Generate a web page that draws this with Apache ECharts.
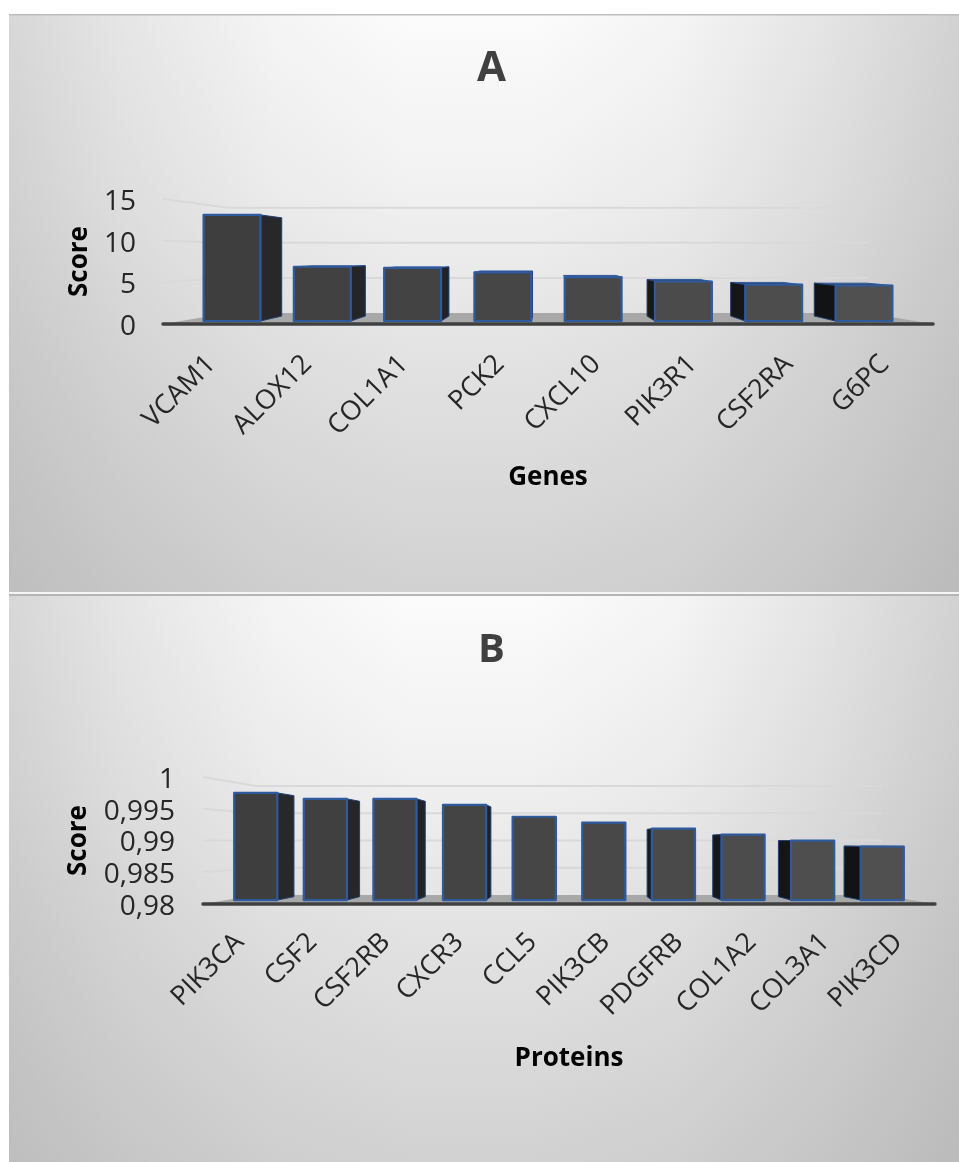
<!DOCTYPE html>
<html><head><meta charset="utf-8">
<style>html,body{margin:0;padding:0;background:#fff}#c{width:959px;height:1162px}</style>
<script src="https://cdn.jsdelivr.net/npm/echarts@6/dist/echarts.min.js"></script>
</head><body><div id="c"></div>
<script>
const genes = ['VCAM1','ALOX12','COL1A1','PCK2','CXCL10','PIK3R1','CSF2RA','G6PC'];
const geneScores = [13.3,6.8,6.65,6.1,5.5,4.95,4.55,4.45];
const geneTicks = [0,5,10,15];
const proteins = ['PIK3CA','CSF2','CSF2RB','CXCR3','CCL5','PIK3CB','PDGFRB','COL1A2','COL3A1','PIK3CD'];
const proteinScores = [0.998,0.997,0.997,0.996,0.994,0.993,0.992,0.991,0.990,0.989];
const proteinTicks = [0.98,0.985,0.99,0.995,1];

const FONT = '"Open Sans", "Noto Sans", sans-serif';
// perspective model of each panel
const views = [
  {yv:254, fx:.938, fy:.957, back:.926, wx:.83, wy:.843, w:.63,  y0:0},
  {yv:841, fx:.951, fy:.937, back:.943, wx:.855, wy:.858, w:.62, y0:.98}
];
function mix(a,b,t){return 'rgb('+a.map((v,i)=>Math.round(v+(b[i]-v)*t)).join(',')+')';}

function barSeries(p, scores){
  const v = views[p], n = scores.length;
  return {type:'custom', xAxisIndex:p, yAxisIndex:p, z:5, encode:{x:0,y:1}, clip:false,
    data: scores.map((s,i)=>[i,s]),
    renderItem(params, api){
      const cs = params.coordSys, xv = cs.x+cs.width/2, i = api.value(0);
      const c = api.coord([i, v.y0]), top = api.coord([i, api.value(1)])[1];
      const hw = api.size([1,0])[0]*v.w/2;
      const P = (x,y,k)=>[xv+(x-xv)*v.fx*k, v.yv+(y-v.yv)*v.fy*k];
      const fl=P(c[0]-hw,c[1],1), fr=P(c[0]+hw,c[1],1), tl=P(c[0]-hw,top,1), tr=P(c[0]+hw,top,1);
      const bl=P(c[0]-hw,c[1],v.back), br=P(c[0]+hw,c[1],v.back), ul=P(c[0]-hw,top,v.back), ur=P(c[0]+hw,top,v.back);
      const t = i/(n-1), kids=[];
      const edge = {stroke:'#2f5a9e', lineWidth:2.2, lineJoin:'round'};
      const poly = (pts,fill,st)=>({type:'polygon',shape:{points:pts},style:Object.assign({fill},st||edge)});
      const sideFill = mix([40,40,42],[18,19,20],t);
      if (ul[1] < tl[1]) kids.push(poly([tl,tr,ur,ul],'#33496f',{stroke:'#2f5a9e',lineWidth:1}));
      if (fr[0] < xv-6) kids.push(poly([tr,ur,br,fr],sideFill,{stroke:'#1f3f70',lineWidth:1}));
      if (fl[0] > xv+30) kids.push(poly([tl,ul,bl,fl],sideFill,{stroke:'#1f3f70',lineWidth:1}));
      kids.push(poly([tl,tr,fr,fl],mix([62,62,62],[80,80,80],t)));
      return {type:'group',children:kids};
    }};
}
function floorSeries(p){
  const v = views[p];
  return {type:'custom', xAxisIndex:p, yAxisIndex:p, z:1, silent:true, encode:{x:0,y:1}, clip:false,
    data:[[0,v.y0]],
    renderItem(params, api){
      const cs=params.coordSys, xv=cs.x+cs.width/2, y=cs.y+cs.height, by=v.yv+(y-v.yv)*v.wy;
      const L=cs.x, R=cs.x+cs.width;
      return {type:'polygon',shape:{points:[[L,y],[R,y],[xv+(R-xv)*v.wx,by],[xv+(L-xv)*v.wx,by]]},
        style:{fill:'#a8a8a8'}};
    }};
}
function gridSeries(p, ticks){
  const v = views[p];
  return {type:'custom', xAxisIndex:p, yAxisIndex:p, z:2, silent:true, encode:{x:0,y:1}, clip:false,
    data: ticks.slice(1).map(t=>[0,t]),
    renderItem(params, api){
      const cs=params.coordSys, xv=cs.x+cs.width/2, y=api.coord([0,api.value(1)])[1];
      const by=v.yv+(y-v.yv)*v.wy, L=cs.x, R=cs.x+cs.width;
      return {type:'polyline',shape:{points:[[L,y],[xv+(L-xv)*v.wx,by],[xv+(R-xv)*v.wx,by]]},
        style:{stroke:'#d9d9d9',lineWidth:2,fill:'none'}};
    }};
}
function panelBg(top,h){
  const g = a=>'rgba(160,160,160,'+a+')';
  return [
    {type:'rect',z:-10,silent:true,shape:{x:9,y:top,width:950,height:h},
     style:{fill:{type:'linear',x:0,y:0,x2:0,y2:1,colorStops:[
      {offset:0,color:'#fcfcfc'},{offset:.3,color:'#f2f2f2'},{offset:.6,color:'#e3e3e3'},{offset:1,color:'#d2d2d2'}]}}},
    {type:'rect',z:-9,silent:true,shape:{x:9,y:top,width:950,height:h},
     style:{fill:{type:'linear',x:0,y:0,x2:1,y2:0,colorStops:[
      {offset:0,color:g(.4)},{offset:.12,color:g(.24)},{offset:.28,color:g(.08)},{offset:.42,color:g(.01)},
      {offset:.55,color:g(.01)},{offset:.7,color:g(.08)},{offset:.86,color:g(.26)},{offset:1,color:g(.46)}]}}}
  ];
}
const yLabel = {fontFamily:FONT,fontSize:28,color:'#262626',verticalAlign:'top',lineHeight:6};
const catLabel = {fontFamily:FONT,fontSize:27,color:'#262626',rotate:45,interval:0};
const nameStyle = {fontFamily:FONT,fontSize:26,fontWeight:'bold',color:'#000'};

const option = {
  animation:false,
  backgroundColor:'#fff',
  graphic:{elements:[...panelBg(14,578),...panelBg(596,566),
    {type:'rect',z:-8,silent:true,shape:{x:9,y:14,width:950,height:1.5},style:{fill:'#bdbdbd'}},
    {type:'rect',z:-8,silent:true,shape:{x:9,y:592,width:950,height:2},style:{fill:'#f5f5f5'}},
    {type:'rect',z:-8,silent:true,shape:{x:9,y:594,width:950,height:2},style:{fill:'#b5b5b5'}}]},
  title:[
    {text:'A',left:486.5,top:43,textAlign:'center',textStyle:{fontFamily:FONT,fontSize:42,fontWeight:'bold',color:'#404040'}},
    {text:'B',left:486.5,top:626,textAlign:'center',textStyle:{fontFamily:FONT,fontSize:40,fontWeight:'bold',color:'#404040'}}
  ],
  grid:[
    {left:163,top:199,width:770,height:125},
    {left:203,top:777,width:732,height:127}
  ],
  xAxis:[
    {gridIndex:0,type:'category',data:genes,name:'Genes',nameLocation:'middle',nameGap:141,nameTextStyle:nameStyle,
     axisLine:{lineStyle:{color:'#404040',width:3.5,cap:'round'}},axisTick:{show:false},axisLabel:Object.assign({margin:36},catLabel),z:6},
    {gridIndex:1,type:'category',data:proteins,name:'Proteins',nameLocation:'middle',nameGap:142,nameTextStyle:nameStyle,
     axisLine:{lineStyle:{color:'#404040',width:3.5,cap:'round'}},axisTick:{show:false},axisLabel:Object.assign({margin:34},catLabel),z:6}
  ],
  yAxis:[
    {gridIndex:0,type:'value',min:geneTicks[0],max:geneTicks[geneTicks.length-1],interval:5,name:'Score',nameLocation:'middle',nameRotate:90,nameGap:70,nameTextStyle:nameStyle,
     axisLine:{show:false},axisTick:{show:false},splitLine:{show:false},
     axisLabel:Object.assign({margin:27},yLabel)},
    {gridIndex:1,type:'value',min:proteinTicks[0],max:proteinTicks[proteinTicks.length-1],interval:0.005,name:'Score',nameLocation:'middle',nameRotate:90,nameGap:111,nameTextStyle:nameStyle,
     axisLine:{show:false},axisTick:{show:false},splitLine:{show:false},
     axisLabel:Object.assign({margin:28,formatter:v=>String(+(+v).toFixed(3)).replace('.',',')},yLabel)}
  ],
  series:[floorSeries(0),gridSeries(0,geneTicks),barSeries(0,geneScores),
          floorSeries(1),gridSeries(1,proteinTicks),barSeries(1,proteinScores)]
};
echarts.init(document.getElementById('c'),null,{renderer:'canvas'}).setOption(option);
</script></body></html>
